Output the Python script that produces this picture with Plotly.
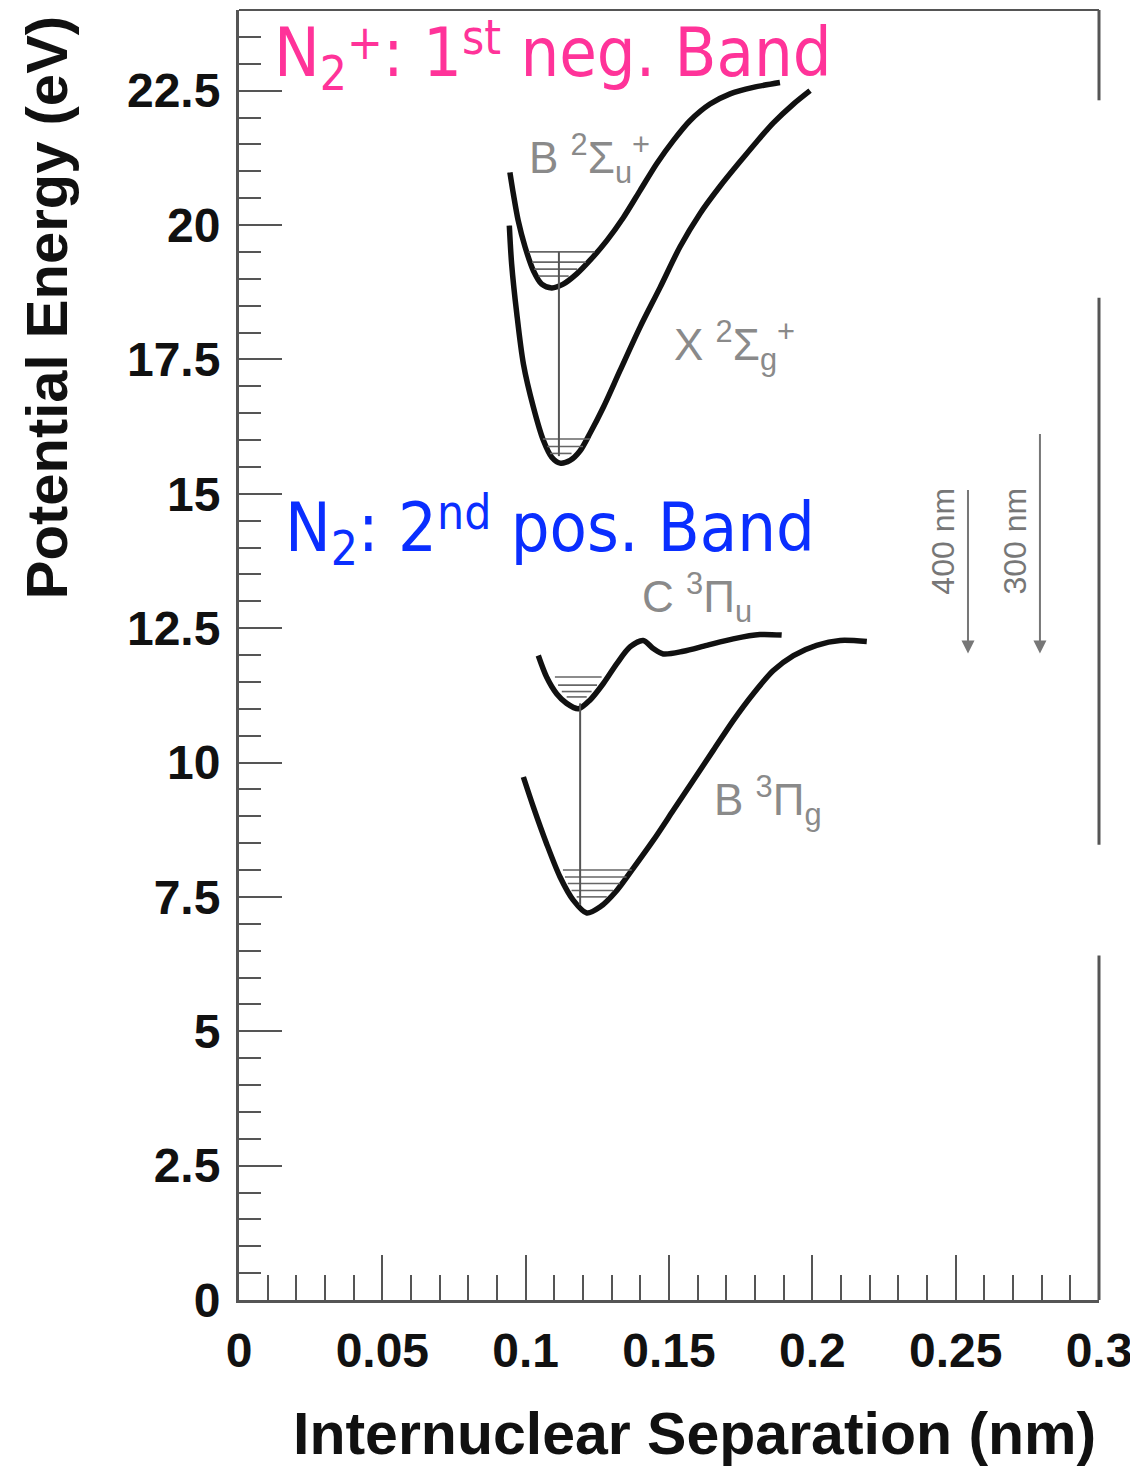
import plotly.graph_objects as go

# ---------------- data ----------------
# N2+ B 2Sigma_u+ potential curve (nm, eV)
b2su_x = [0.0945, 0.0957, 0.0974, 0.0998, 0.1027, 0.1056, 0.1091, 0.1131, 0.1178, 0.1224,
          0.1283, 0.1341, 0.1399, 0.1457, 0.1515, 0.1573, 0.1643, 0.1713, 0.1794, 0.1887]
b2su_y = [20.98, 20.58, 20.08, 19.59, 19.15, 18.90, 18.83, 18.90, 19.09, 19.34,
          19.71, 20.14, 20.64, 21.14, 21.57, 21.94, 22.25, 22.44, 22.56, 22.65]
# N2+ X 2Sigma_g+
x2sg_x = [0.0943, 0.0951, 0.0969, 0.0992, 0.1027, 0.1062, 0.1091, 0.1120, 0.1155, 0.1190,
          0.1224, 0.1271, 0.1329, 0.1399, 0.1469, 0.1538, 0.1608, 0.1678, 0.1748, 0.1806,
          0.1864, 0.1934, 0.1992]
x2sg_y = [19.99, 19.28, 18.35, 17.42, 16.61, 15.99, 15.68, 15.57, 15.62, 15.80,
          16.12, 16.61, 17.29, 18.10, 18.84, 19.59, 20.21, 20.72, 21.18, 21.55,
          21.90, 22.25, 22.50]
# N2 C 3Pi_u
c3pu_x = [0.1044, 0.1073, 0.1108, 0.1143, 0.1184, 0.1224, 0.1271, 0.1318, 0.1364, 0.1410,
          0.1445, 0.1480, 0.1550, 0.1632, 0.1724, 0.1817, 0.1893]
c3pu_y = [11.99, 11.59, 11.28, 11.10, 11.00, 11.16, 11.47, 11.84, 12.15, 12.27,
          12.12, 12.02, 12.07, 12.18, 12.30, 12.38, 12.37]
# N2 B 3Pi_g
b3pg_x = [0.0992, 0.1027, 0.1073, 0.1120, 0.1166, 0.1213, 0.1259, 0.1318, 0.1375, 0.1445,
          0.1515, 0.1585, 0.1655, 0.1724, 0.1794, 0.1864, 0.1934, 0.2015, 0.2097, 0.2190]
b3pg_y = [9.73, 9.17, 8.49, 7.87, 7.44, 7.20, 7.31, 7.62, 8.03, 8.55,
          9.11, 9.67, 10.23, 10.78, 11.28, 11.71, 11.99, 12.18, 12.27, 12.25]

# vibrational levels: energy, x start, x end
lvl_e  = [19.50, 19.31, 19.18, 19.05, 16.02, 15.88, 15.75,
          11.59, 11.44, 11.32, 11.22, 8.00, 7.87, 7.75, 7.62, 7.50]
lvl_x0 = [0.1010, 0.1022, 0.1030, 0.1045, 0.1060, 0.1075, 0.1085,
          0.1102, 0.1113, 0.1126, 0.1143, 0.1130, 0.1137, 0.1147, 0.1160, 0.1178]
lvl_x1 = [0.1240, 0.1210, 0.1180, 0.1150, 0.1224, 0.1200, 0.1160,
          0.1265, 0.1249, 0.1230, 0.1213, 0.1370, 0.1352, 0.1329, 0.1305, 0.1283]

# transitions (vertical lines): x, upper energy, lower energy
tr_x = [0.1116, 0.1190]
tr_hi = [19.50, 11.10]
tr_lo = [15.70, 7.35]

# photon energy arrows
arr_lbl = ["400 nm", "300 nm"]
arr_x = [0.2543, 0.2794]
arr_hi = [15.10, 16.14]
arr_lo = [12.03, 12.03]

y_ticks = [0, 2.5, 5, 7.5, 10, 12.5, 15, 17.5, 20, 22.5]
y_tick_text = ["0", "2.5", "5", "7.5", "10", "12.5", "15", "17.5", "20", "22.5"]
x_ticks = [0, 0.05, 0.1, 0.15, 0.2, 0.25, 0.3]
x_tick_text = ["0", "0.05", "0.1", "0.15", "0.2", "0.25", "0.3"]

# ---------------- figure ----------------
fig = go.Figure()
for xs, ys in [(b2su_x, b2su_y), (x2sg_x, x2sg_y), (c3pu_x, c3pu_y), (b3pg_x, b3pg_y)]:
    fig.add_trace(go.Scatter(x=xs, y=ys, mode="lines",
                             line=dict(color="#111111", width=5.5, shape="spline", smoothing=0.8),
                             showlegend=False, hoverinfo="skip"))

lx, ly = [], []
for e, a, b in zip(lvl_e, lvl_x0, lvl_x1):
    lx += [a, b, None]
    ly += [e, e, None]
fig.add_trace(go.Scatter(x=lx, y=ly, mode="lines", line=dict(color="#666666", width=1.6),
                         showlegend=False, hoverinfo="skip"))

tx, ty = [], []
for x, hi, lo in zip(tr_x, tr_hi, tr_lo):
    tx += [x, x, None]
    ty += [hi, lo, None]
fig.add_trace(go.Scatter(x=tx, y=ty, mode="lines", line=dict(color="#555555", width=2),
                         showlegend=False, hoverinfo="skip"))

annotations = []
for lbl, x, hi, lo in zip(arr_lbl, arr_x, arr_hi, arr_lo):
    annotations.append(dict(x=x, y=lo, ax=x, ay=hi, xref="x", yref="y", axref="x", ayref="y",
                            showarrow=True, arrowhead=2, arrowsize=1.3, arrowwidth=2,
                            arrowcolor="#777777", text=""))
    annotations.append(dict(x=x - 0.0087, y=14.11, xref="x", yref="y", text=lbl, textangle=-90,
                            showarrow=False, font=dict(family="Liberation Sans", size=32, color="#777777")))

grey = dict(family="Liberation Sans", size=44, color="#8a8a8a")
for txt, x, y in [("B <sup>2</sup>Σ<sub>u</sub><sup>+</sup>", 0.1005, 21.24),
                  ("X <sup>2</sup>Σ<sub>g</sub><sup>+</sup>", 0.151, 17.76),
                  ("C <sup>3</sup>Π<sub>u</sub>", 0.140, 13.07),
                  ("B <sup>3</sup>Π<sub>g</sub>", 0.165, 9.30)]:
    annotations.append(dict(x=x, y=y, xref="x", yref="y", text=txt, showarrow=False,
                            xanchor="left", yanchor="middle", font=grey))

sup_plus = '<span style="font-size:70%;baseline-shift:17px">+</span>'
sup_st = '<span style="font-size:70%;baseline-shift:22px">st</span>'
sup_nd = '<span style="font-size:70%;baseline-shift:22px">nd</span>'
annotations.append(dict(x=0.0115, y=23.15, xref="x", yref="y",
                        text="N<sub>2</sub>" + sup_plus + ": 1" + sup_st + " neg. Band",
                        showarrow=False, xanchor="left", yanchor="middle",
                        font=dict(family="DejaVu Sans Condensed", size=68, color="#FF3399")))
annotations.append(dict(x=0.0153, y=14.31, xref="x", yref="y",
                        text="N<sub>2</sub>: 2" + sup_nd + " pos. Band",
                        showarrow=False, xanchor="left", yanchor="middle",
                        font=dict(family="DejaVu Sans Condensed", size=68, color="#0A2EFF")))

annotations.append(dict(x=-0.223, y=0.769, xref="paper", yref="paper", text="Potential Energy (eV)",
                        textangle=-90, showarrow=False, xanchor="center", yanchor="middle",
                        font=dict(family="Liberation Sans", size=58, color="#111111", weight="bold")))
annotations.append(dict(x=0.53, y=-0.104, xref="paper", yref="paper", text="Internuclear Separation (nm)",
                        showarrow=False, xanchor="center", yanchor="middle",
                        font=dict(family="Liberation Sans", size=59, color="#111111", weight="bold")))

axis_col = "#555555"
shapes = [
    dict(type="line", xref="paper", yref="paper", x0=0, x1=1, y0=1, y1=1, line=dict(color=axis_col, width=2)),
    dict(type="line", xref="paper", yref="paper", x0=1, x1=1, y0=1.0, y1=0.930, line=dict(color=axis_col, width=3)),
    dict(type="line", xref="paper", yref="paper", x0=1, x1=1, y0=0.777, y1=0.353, line=dict(color=axis_col, width=3)),
    dict(type="line", xref="paper", yref="paper", x0=1, x1=1, y0=0.267, y1=0.0, line=dict(color=axis_col, width=3)),
]

tickfont = dict(family="Liberation Sans", size=48, color="#111111", weight="bold")
fig.update_layout(
    width=1130, height=1460,
    margin=dict(l=231, r=39, t=2, b=168),
    paper_bgcolor="white", plot_bgcolor="white",
    annotations=annotations, shapes=shapes,
    xaxis=dict(range=[0, 0.3], tickvals=x_ticks, ticktext=x_tick_text, ticks="inside",
               ticklen=45, tickwidth=2, tickcolor=axis_col, showgrid=False, zeroline=False,
               showline=True, linecolor=axis_col, linewidth=3, tickfont=tickfont,
               ticklabelstandoff=6,
               minor=dict(dtick=0.01, tick0=0, ticks="inside", ticklen=25, tickwidth=2,
                          tickcolor=axis_col, showgrid=False)),
    yaxis=dict(range=[0, 24], tickvals=y_ticks, ticktext=y_tick_text, ticks="inside",
               ticklen=43, tickwidth=2, tickcolor=axis_col, showgrid=False, zeroline=False,
               showline=True, linecolor=axis_col, linewidth=3, tickfont=tickfont,
               ticklabelstandoff=6,
               minor=dict(dtick=0.5, tick0=0, ticks="inside", ticklen=22, tickwidth=2,
                          tickcolor=axis_col, showgrid=False)),
)

fig.write_html("out.html")
